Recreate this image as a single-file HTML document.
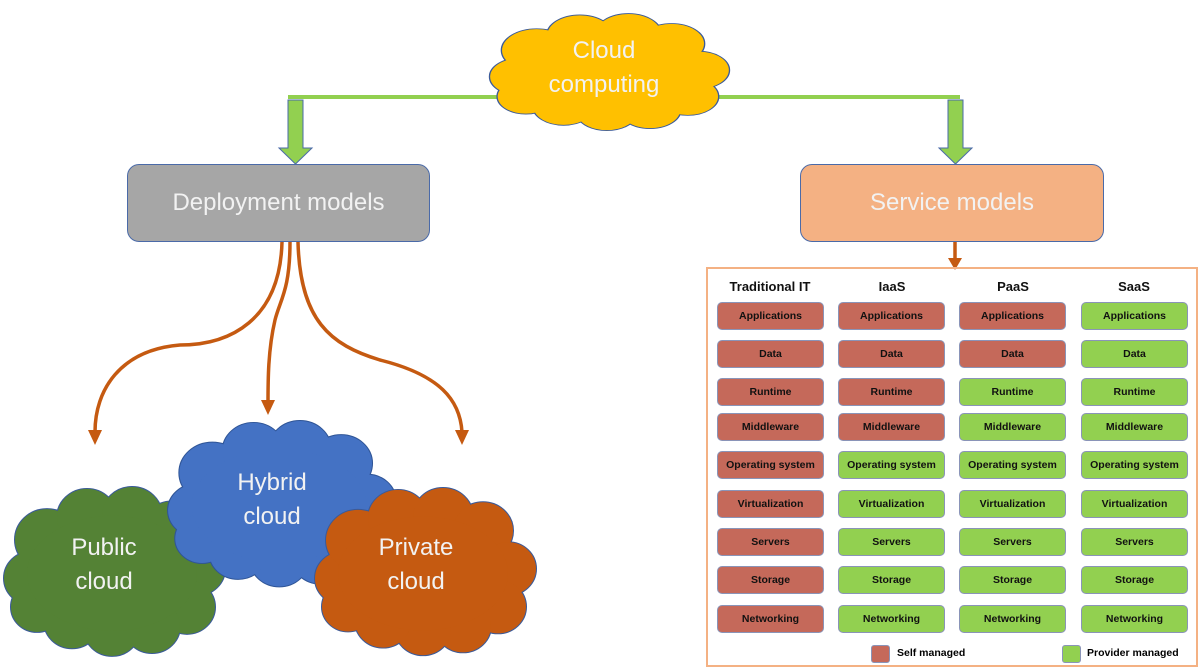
<!DOCTYPE html>
<html><head><meta charset="utf-8"><style>
body{margin:0;width:1200px;height:669px;background:#fff;overflow:hidden;position:relative;font-family:"Liberation Sans",sans-serif}
.b{position:absolute;width:107px;height:28px;border-radius:5px;border:1px solid #8a94b8;box-sizing:border-box;font-size:10.5px;font-weight:bold;display:flex;align-items:center;justify-content:center;color:#111}
.r{background:#C5695A}.g{background:#92D050}
.h{position:absolute;top:279px;font-size:13px;font-weight:bold;text-align:center;width:120px;color:#111}
.big{position:absolute;display:flex;align-items:center;justify-content:center;color:#f2f2f2;font-size:24px;border-radius:12px;border:1.5px solid #4a6aa8;box-sizing:border-box}
</style></head><body>
<svg width="1200" height="669" style="position:absolute;left:0;top:0">
<defs>
<g id="cl">
<circle cx="30" cy="95" r="28"/><circle cx="45" cy="55" r="32"/><circle cx="85" cy="32" r="30"/><circle cx="130" cy="30" r="30"/><circle cx="170" cy="45" r="30"/><circle cx="195" cy="85" r="28"/><circle cx="185" cy="125" r="28"/><circle cx="150" cy="145" r="28"/><circle cx="110" cy="148" r="28"/><circle cx="70" cy="140" r="28"/><circle cx="35" cy="125" r="26"/><ellipse cx="110" cy="90" rx="85" ry="60"/>
</g>
</defs>
<!-- green line -->
<polyline points="288,97 960,97" stroke="#92D050" stroke-width="4" fill="none"/>
<!-- top cloud -->
<g transform="translate(488,14) scale(1.08,0.66)" fill="#FFC000" stroke="#3a5a9a" stroke-width="2.5"><use href="#cl"/></g>
<g transform="translate(488,14) scale(1.08,0.66)" fill="#FFC000"><use href="#cl"/></g>
<path d="M288,100 H303 V148 H312 L295.5,164 L279,148 H288 Z" fill="#92D050" stroke="#4a6aa8" stroke-width="1"/>
<path d="M948,100 H963 V148 H972 L955.5,164 L939,148 H948 Z" fill="#92D050" stroke="#4a6aa8" stroke-width="1"/>
<!-- orange curves -->
<g stroke="#C55A11" stroke-width="3.5" fill="none">
<path d="M282,242 C280,320 230,345 180,345 C120,350 95,390 95,432"/>
<path d="M290,242 C290,290 280,300 275,320 C268,350 268,380 268,404"/>
<path d="M298,242 C300,320 330,345 380,360 C440,375 460,400 462,432"/>
<path d="M955,242 V262"/>
</g>
<g fill="#C55A11">
<polygon points="88,430 102,430 95,445"/><polygon points="261,400 275,400 268,415"/><polygon points="455,430 469,430 462,445"/><polygon points="948,258 962,258 955,270"/>
</g>
<!-- bottom clouds -->
<g transform="translate(2,487) scale(1.0,0.96)" fill="#548235" stroke="#3a5a9a" stroke-width="2"><use href="#cl"/></g>
<g transform="translate(2,487) scale(1.0,0.96)" fill="#548235"><use href="#cl"/></g>
<g transform="translate(166,421) scale(1.03,0.94)" fill="#4472C4" stroke="#2f5597" stroke-width="2"><use href="#cl"/></g>
<g transform="translate(166,421) scale(1.03,0.94)" fill="#4472C4"><use href="#cl"/></g>
<g transform="translate(313,488) scale(1.0,0.95)" fill="#C55A11" stroke="#3a5a9a" stroke-width="2"><use href="#cl"/></g>
<g transform="translate(313,488) scale(1.0,0.95)" fill="#C55A11"><use href="#cl"/></g>
<g fill="#f2f2f2" font-family="Liberation Sans, sans-serif" font-size="24" text-anchor="middle">
<text x="604" y="58">Cloud</text><text x="604" y="92">computing</text>
<text x="104" y="555">Public</text><text x="104" y="589">cloud</text>
<text x="272" y="490">Hybrid</text><text x="272" y="524">cloud</text>
<text x="416" y="555">Private</text><text x="416" y="589">cloud</text>
</g>
<rect x="707" y="268" width="490" height="398" fill="none" stroke="#F4B183" stroke-width="2"/>
</svg>
<div class="big" style="left:127px;top:164px;width:303px;height:78px;background:#A6A6A6">Deployment models</div>
<div class="big" style="left:800px;top:164px;width:304px;height:78px;background:#F4B183">Service models</div>
<div class="h" style="left:710px">Traditional IT</div>
<div class="h" style="left:832px">IaaS</div>
<div class="h" style="left:953px">PaaS</div>
<div class="h" style="left:1074px">SaaS</div>
<div style="position:absolute;left:871px;top:645px;width:19px;height:18px;background:#C5695A;border:1px solid #8a94b8;border-radius:3px;box-sizing:border-box"></div>
<div style="position:absolute;left:897px;top:647px;font-size:10.5px;font-weight:bold">Self managed</div>
<div style="position:absolute;left:1062px;top:645px;width:19px;height:18px;background:#92D050;border:1px solid #8a94b8;border-radius:3px;box-sizing:border-box"></div>
<div style="position:absolute;left:1087px;top:647px;font-size:10.5px;font-weight:bold">Provider managed</div>

<div class="b r" style="left:717px;top:302px">Applications</div><div class="b r" style="left:838px;top:302px">Applications</div><div class="b r" style="left:959px;top:302px">Applications</div><div class="b g" style="left:1081px;top:302px">Applications</div>
<div class="b r" style="left:717px;top:340px">Data</div><div class="b r" style="left:838px;top:340px">Data</div><div class="b r" style="left:959px;top:340px">Data</div><div class="b g" style="left:1081px;top:340px">Data</div>
<div class="b r" style="left:717px;top:378px">Runtime</div><div class="b r" style="left:838px;top:378px">Runtime</div><div class="b g" style="left:959px;top:378px">Runtime</div><div class="b g" style="left:1081px;top:378px">Runtime</div>
<div class="b r" style="left:717px;top:413px">Middleware</div><div class="b r" style="left:838px;top:413px">Middleware</div><div class="b g" style="left:959px;top:413px">Middleware</div><div class="b g" style="left:1081px;top:413px">Middleware</div>
<div class="b r" style="left:717px;top:451px">Operating system</div><div class="b g" style="left:838px;top:451px">Operating system</div><div class="b g" style="left:959px;top:451px">Operating system</div><div class="b g" style="left:1081px;top:451px">Operating system</div>
<div class="b r" style="left:717px;top:490px">Virtualization</div><div class="b g" style="left:838px;top:490px">Virtualization</div><div class="b g" style="left:959px;top:490px">Virtualization</div><div class="b g" style="left:1081px;top:490px">Virtualization</div>
<div class="b r" style="left:717px;top:528px">Servers</div><div class="b g" style="left:838px;top:528px">Servers</div><div class="b g" style="left:959px;top:528px">Servers</div><div class="b g" style="left:1081px;top:528px">Servers</div>
<div class="b r" style="left:717px;top:566px">Storage</div><div class="b g" style="left:838px;top:566px">Storage</div><div class="b g" style="left:959px;top:566px">Storage</div><div class="b g" style="left:1081px;top:566px">Storage</div>
<div class="b r" style="left:717px;top:605px">Networking</div><div class="b g" style="left:838px;top:605px">Networking</div><div class="b g" style="left:959px;top:605px">Networking</div><div class="b g" style="left:1081px;top:605px">Networking</div>
</body></html>
